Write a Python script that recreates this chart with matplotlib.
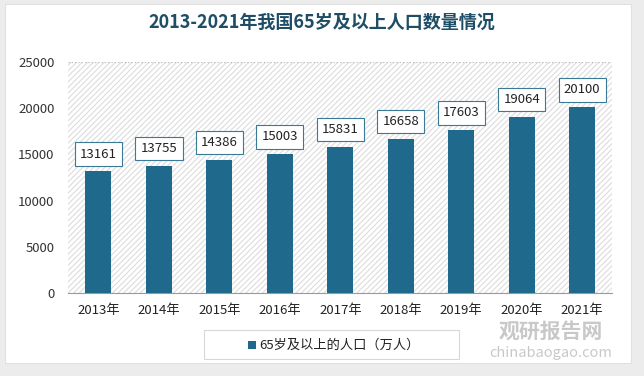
import matplotlib.pyplot as plt
from matplotlib.patches import Rectangle
import numpy as np

plt.rcParams['font.family'] = ['Noto Sans CJK SC', 'DejaVu Sans']
plt.rcParams['hatch.color'] = '#dcdcdc'
plt.rcParams['hatch.linewidth'] = 0.8

# data
years = ['2013年', '2014年', '2015年', '2016年', '2017年', '2018年', '2019年', '2020年', '2021年']
population = [13161, 13755, 14386, 15003, 15831, 16658, 17603, 19064, 20100]
yticks = [0, 5000, 10000, 15000, 20000, 25000]

title = '2013-2021年我国65岁及以上人口数量情况'
series_name = '65岁及以上的人口（万人）'
bar_color = '#1F6A8C'

fig = plt.figure(figsize=(6.44, 3.76), dpi=100)
fig.patch.set_facecolor('#ececec')

# white card behind everything
card = Rectangle((0.008, 0.035), 0.972, 0.955, transform=fig.transFigure,
                 facecolor='white', edgecolor='#e0e0e0', linewidth=0.8, zorder=-10)
fig.patches.append(card)

ax = fig.add_axes([0.106, 0.221, 0.845, 0.614])
ax.set_facecolor('white')
# hatched plot background
ax.add_patch(Rectangle((0, 0), 1, 1, transform=ax.transAxes, facecolor='white',
                       hatch='//////', edgecolor='#dcdcdc', linewidth=0, zorder=0))

x = np.arange(len(years))
bars = ax.bar(x, population, width=0.43, color=bar_color, zorder=3)

for xi, v in zip(x, population):
    ax.annotate(f'{v}', (xi, v), xytext=(0, 12.5), textcoords='offset points',
                ha='center', va='center', fontsize=9.5, color='#222222', zorder=5,
                bbox=dict(boxstyle='square,pad=0.4', facecolor='white',
                          edgecolor='#3a7a96', linewidth=0.8))

ax.set_xlim(-0.5, 8.5)
ax.set_ylim(0, 25000)
ax.set_yticks(yticks)
ax.set_yticklabels([str(t) for t in yticks], fontsize=9.5, color='#333333')
ax.set_xticks(x)
ax.set_xticklabels(years, fontsize=9.5, color='#222222')
ax.tick_params(axis='both', length=0, pad=8)
ax.tick_params(axis='y', pad=10)
for s in ['top', 'right', 'left']:
    ax.spines[s].set_visible(False)
ax.spines['bottom'].set_color('#9a9a9a')
ax.axhline(yticks[-1], linestyle=':', color='#bdbdbd', linewidth=0.9, zorder=1)

fig.text(0.5, 0.94, title, ha='center', va='center', fontsize=13,
         fontweight='bold', color='#1d4e66')

# legend frame and entry
fig.patches.append(Rectangle((0.316, 0.045), 0.397, 0.077, transform=fig.transFigure,
                             facecolor='white', edgecolor='#d8d8d8', linewidth=0.8, zorder=2))
fig.patches.append(Rectangle((0.385, 0.072), 0.012, 0.021, transform=fig.transFigure,
                             facecolor=bar_color, edgecolor='none', zorder=3))
fig.text(0.402, 0.083, series_name, ha='left', va='center', fontsize=9.5, color='#222222')

# watermark
fig.text(0.855, 0.118, '观研报告网', ha='center', va='center', fontsize=15,
         fontweight='bold', color='#9c9c9c', alpha=0.55)
fig.text(0.855, 0.06, 'chinabaogao.com', ha='center', va='center', fontsize=10.5,
         color='#9c9c9c', alpha=0.55)

fig.savefig('out.png', dpi=100, facecolor=fig.get_facecolor())
